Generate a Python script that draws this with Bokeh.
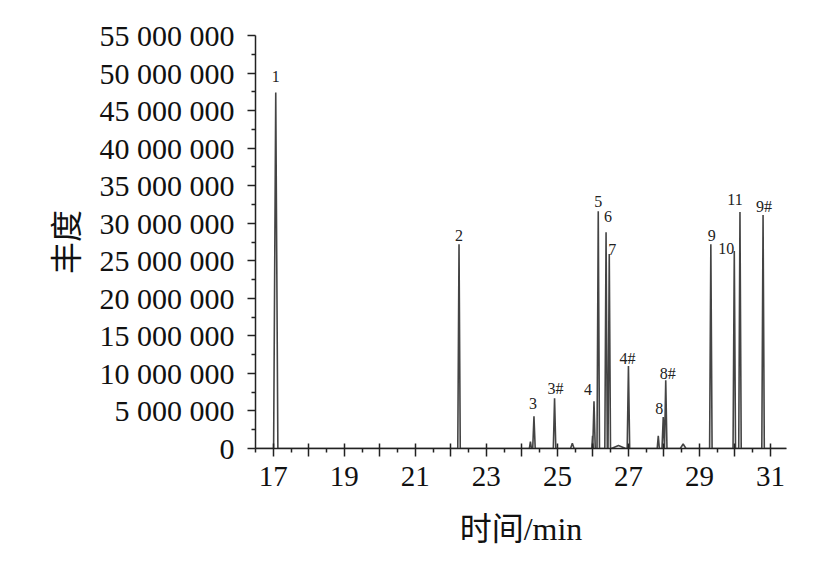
from bokeh.plotting import figure
from bokeh.models import FixedTicker, ColumnDataSource, Range1d
from bokeh.core.properties import value
from bokeh.embed import file_html
from bokeh.resources import INLINE

# ---- data ----
peak_labels = ["1", "2", "3", "3#", "4", "5", "6", "7", "4#", "8", "8#", "9", "10", "11", "9#"]
peak_times = [17.07, 22.23, 24.34, 24.92, 26.03, 26.15, 26.37, 26.46, 27.00, 27.98, 28.05, 29.32, 29.98, 30.14, 30.79]
peak_heights = [47.4e6, 27.2e6, 4.3e6, 6.7e6, 6.3e6, 31.6e6, 28.8e6, 25.9e6, 11.0e6, 4.2e6, 9.1e6, 27.2e6, 26.3e6, 31.5e6, 31.1e6]

minor_times = [24.24, 25.42, 25.99, 26.72, 27.84, 28.54]
minor_heights = [0.9e6, 0.7e6, 1.7e6, 0.4e6, 1.7e6, 0.6e6]

x_ticks = list(range(17, 32))
x_tick_labels = [str(t) if t % 2 == 1 else "" for t in x_ticks]
y_ticks = [i * 5_000_000 for i in range(12)]
y_tick_labels = ["0", "5 000 000", "10 000 000", "15 000 000", "20 000 000", "25 000 000",
                 "30 000 000", "35 000 000", "40 000 000", "45 000 000", "50 000 000", "55 000 000"]

# ---- styles ----
major_w = [0.06] + [0.035] * (len(peak_times) - 1)
minor_w = [0.03, 0.05, 0.02, 0.2, 0.03, 0.08]
lab_dx = [0, 0, -1, 1, -6, 0, 2, 3, -1, -4, 2, 1, -8, -5, 1]
lab_dy = [-16, -9, -13, -10, -12, -10, -16, -5, -7, -8, -7, -9, -3, -12, -8]

XMIN, XMAX = 16.5, 31.45

# build trace from peak list
allp = sorted(zip(peak_times + minor_times, peak_heights + minor_heights, major_w + minor_w))
xs, ys = [XMIN], [0.0]
for t, h, w in allp:
    xs += [t - w, t, t + w]
    ys += [0.0, h, 0.0]
xs.append(XMAX)
ys.append(0.0)

SERIF = "'Liberation Serif', 'Times New Roman', serif"
TITLEF = "'Liberation Serif', 'Noto Sans CJK SC', serif"

p = figure(width=806, height=550, output_backend="svg", toolbar_location=None,
           x_range=Range1d(XMIN, XMAX), y_range=Range1d(0, 55_000_000),
           min_border_left=255, min_border_top=35, min_border_right=20, min_border_bottom=102)
p.outline_line_color = None
p.xgrid.visible = False
p.ygrid.visible = False
p.background_fill_color = "white"
p.border_fill_color = "white"

p.line(xs, ys, line_color="#444444", line_width=1.6)

src = ColumnDataSource(dict(x=peak_times, y=peak_heights, t=peak_labels, dx=lab_dx, dy=lab_dy))
p.text(x="x", y="y", text="t", source=src, x_offset="dx", y_offset="dy",
       text_align="center", text_baseline="middle",
       text_font=value(SERIF), text_font_size="16px", text_color="#222222")

# x axis
xa = p.xaxis[0]
xa.ticker = FixedTicker(ticks=x_ticks, minor_ticks=[t + 0.5 for t in x_ticks[:-1]] + [16.5])
xa.major_label_overrides = {t: l for t, l in zip(x_ticks, x_tick_labels)}
xa.axis_label = "时间/min"
ya = p.yaxis[0]
ya.ticker = FixedTicker(ticks=y_ticks, minor_ticks=[v + 2_500_000 for v in y_ticks[:-1]])
ya.major_label_overrides = {t: l for t, l in zip(y_ticks, y_tick_labels)}
ya.axis_label = "丰度"

for ax in (xa, ya):
    ax.axis_line_color = "#222222"
    ax.axis_line_width = 1.5
    ax.major_tick_line_color = "#222222"
    ax.minor_tick_line_color = "#222222"
    ax.major_tick_line_width = 1.5
    ax.minor_tick_line_width = 1.5
    ax.major_label_text_font = SERIF
    ax.major_label_text_color = "#111111"
    ax.axis_label_text_font = TITLEF
    ax.axis_label_text_font_size = "32px"
    ax.axis_label_text_font_style = "normal"
    ax.axis_label_text_color = "#111111"

xa.major_label_text_font_size = "29px"
ya.major_label_text_font_size = "30px"

xa.major_tick_in = 5
xa.major_tick_out = 8
xa.minor_tick_in = 0
xa.minor_tick_out = 4
xa.major_label_standoff = 10
xa.axis_label_standoff = 22

ya.major_tick_in = 0
ya.major_tick_out = 8
ya.minor_tick_in = 0
ya.minor_tick_out = 4
ya.major_label_standoff = 13
ya.axis_label_standoff = 12

open("out.html", "w").write(file_html(p, INLINE))
